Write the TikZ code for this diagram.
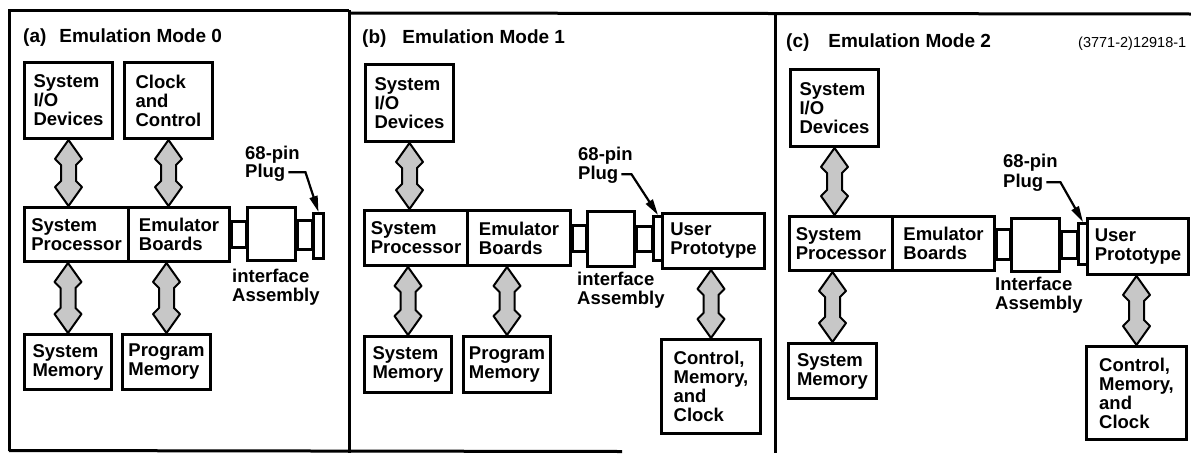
\documentclass[tikz,border=0pt]{standalone}
\usepackage{fontspec}
\setmainfont{Liberation Sans}
\usetikzlibrary{arrows.meta,calc}

% double-headed bus arrow, #1 upper end, #2 lower end
\newcommand{\busarrow}[2]{%
  \draw[dblbus] let \p1=(#1), \p2=(#2) in
    (\x1,\y1) -- (\x1+13.5pt,\y1-19pt) -- (\x1+7.5pt,\y1-25pt)
    -- (\x1+7.5pt,\y2+25pt) -- (\x1+13.5pt,\y2+19pt) -- (\x1,\y2)
    -- (\x1-13.5pt,\y2+19pt) -- (\x1-7.5pt,\y2+25pt)
    -- (\x1-7.5pt,\y1-25pt) -- (\x1-13.5pt,\y1-19pt) -- cycle;}

\begin{document}
\begin{tikzpicture}[x=1pt,y=-1pt,
    frame/.style={line width=3pt},
    blk/.style={draw, line width=3pt, align=left, inner sep=0pt, anchor=north west,
      font=\fontsize{18.5}{19}\selectfont\bfseries},
    stub/.style={line width=3pt},
    dblbus/.style={draw=black, line width=2pt, fill=black!22, line join=round},
    lbl/.style={inner sep=0pt, align=left, font=\fontsize{18.5}{19}\selectfont\bfseries},
    ttl/.style={inner sep=0pt, anchor=base west, font=\fontsize{19}{22}\selectfont\bfseries},
    leader/.style={line width=2.2pt, -{Triangle[length=16pt,width=8pt]}}]
    \useasboundingbox (0,0) rectangle (1191,453);

    % panel frames
    \draw[frame] (9,450.5) -- (9,10) -- (349,10);
    \draw[frame] (349,13) -- (1191,14);
    \draw[frame] (349,10) -- (349,453);
    \draw[frame] (775,13) -- (775,453);
    \draw[frame] (9,450.5) -- (622,451.5);

    % (a) Emulation Mode 0
    \node[ttl] (ttla) at (23,42) {(a)\hspace{13pt}Emulation Mode 0};
    \node[blk, minimum width=88pt, minimum height=76pt] (ioa) at (23,61) {System\\I/O\\Devices};
    \node[blk, minimum width=88pt, minimum height=76pt] (clka) at (123,61) {Clock\\and\\Control};
    \node[blk, minimum width=104pt, minimum height=54pt] (proca) at (23,206) {System\\Processor};
    \node[blk, minimum width=101pt, minimum height=54pt] (emua) at (127,206) {Emulator\\Boards};
    \node[blk, minimum width=48pt, minimum height=53pt] (ifa) at (246,206) {};
    \node[blk, minimum width=10pt, minimum height=45pt] (pluga) at (312,212) {};
    \node[blk, minimum width=87pt, minimum height=55pt] (smema) at (23,333) {System\\Memory};
    \node[blk, minimum width=88pt, minimum height=55pt] (pmema) at (121,333) {Program\\Memory};
    \draw[stub] ($(emua.east)+(0,-13.5)$) rectangle ($(ifa.west)+(0,13.5)$);
    \draw[stub] ($(ifa.east)+(0,-13.5)$) rectangle ($(pluga.west)+(0,13.5)$);
    \node[lbl, anchor=base west] (pintxta) at (245,159) {68-pin};
    \node[lbl, anchor=base west] (plugtxta) at (245,177) {Plug};
    \draw[leader] ($(plugtxta.east)+(3,0)$) -- ++(17,0) -- (pluga.north);
    \node[lbl, anchor=north west] (iftxta) at (232,269) {interface\\Assembly};
    \busarrow{ioa.south}{ioa.south |- proca.north}
    \busarrow{clka.south}{clka.south |- emua.north}
    \busarrow{smema.north |- proca.south}{smema.north}
    \busarrow{pmema.north |- emua.south}{pmema.north}

    % (b) Emulation Mode 1
    \node[ttl] (ttlb) at (362,43) {(b)\hspace{16pt}Emulation Mode 1};
    \node[blk, minimum width=88pt, minimum height=77pt] (iob) at (364,63) {System\\I/O\\Devices};
    \node[blk, minimum width=103pt, minimum height=55pt] (procb) at (363,209) {System\\Processor};
    \node[blk, minimum width=103pt, minimum height=55pt] (emub) at (466,209) {Emulator\\Boards};
    \node[blk, minimum width=47pt, minimum height=55pt] (ifb) at (586,210) {};
    \node[blk, minimum width=9pt, minimum height=44pt] (plugb) at (652,215) {};
    \node[blk, minimum width=102pt, minimum height=55pt] (upb) at (661,212) {User\\Prototype};
    \node[blk, minimum width=87pt, minimum height=56pt] (smemb) at (363,335) {System\\Memory};
    \node[blk, minimum width=87pt, minimum height=56pt] (pmemb) at (462,335) {Program\\Memory};
    \node[blk, minimum width=99pt, minimum height=94pt] (ctlb) at (660,338) {Control,\\Memory,\\and\\Clock};
    \draw[stub] ($(emub.east)+(0,-12.5)$) rectangle ($(ifb.west)+(0,12.5)$);
    \draw[stub] ($(ifb.east)+(0,-12.5)$) rectangle ($(plugb.west)+(0,12.5)$);
    \node[lbl, anchor=base west] (pintxtb) at (578,160) {68-pin};
    \node[lbl, anchor=base west] (plugtxtb) at (578,179) {Plug};
    \draw[leader] ($(plugtxtb.east)+(3,0)$) -- ++(10,0) -- (plugb.north);
    \node[lbl, anchor=north west] (iftxtb) at (577,272) {interface\\Assembly};
    \busarrow{iob.south}{iob.south |- procb.north}
    \busarrow{smemb.north |- procb.south}{smemb.north}
    \busarrow{pmemb.north |- emub.south}{pmemb.north}
    \busarrow{ctlb.north |- upb.south}{ctlb.north}

    % (c) Emulation Mode 2
    \node[ttl] (ttlc) at (786,47) {(c)\hspace{19pt}Emulation Mode 2};
    \node[anchor=base west, inner sep=0pt, font=\fontsize{14.5}{16}\selectfont] (refno) at (1078,47) {(3771-2)12918-1};
    \node[blk, minimum width=88pt, minimum height=77pt] (ioc) at (789,68) {System\\I/O\\Devices};
    \node[blk, minimum width=103pt, minimum height=54pt] (procc) at (788,215) {System\\Processor};
    \node[blk, minimum width=102pt, minimum height=54pt] (emuc) at (891,215) {Emulator\\Boards};
    \node[blk, minimum width=48pt, minimum height=53pt] (ifc) at (1010,217) {};
    \node[blk, minimum width=9pt, minimum height=41pt] (plugc) at (1077,222) {};
    \node[blk, minimum width=101pt, minimum height=56pt] (upc) at (1086,217) {User\\Prototype};
    \node[blk, minimum width=88pt, minimum height=55pt] (smemc) at (787,342) {System\\Memory};
    \node[blk, minimum width=100pt, minimum height=93pt] (ctlc) at (1085,345) {Control,\\Memory,\\and\\Clock};
    \draw[stub] ($(emuc.east)+(0,-14)$) rectangle ($(ifc.west)+(0,14)$);
    \draw[stub] ($(ifc.east)+(0,-14)$) rectangle ($(plugc.west)+(0,14)$);
    \node[lbl, anchor=base west] (pintxtc) at (1003,167) {68-pin};
    \node[lbl, anchor=base west] (plugtxtc) at (1003,187) {Plug};
    \draw[leader] ($(plugtxtc.east)+(3,0)$) -- ++(14,0) -- (plugc.north);
    \node[lbl, anchor=north west] (iftxtc) at (995,277) {Interface\\Assembly};
    \busarrow{ioc.south}{ioc.south |- procc.north}
    \busarrow{smemc.north |- procc.south}{smemc.north}
    \busarrow{ctlc.north |- upc.south}{ctlc.north}
\end{tikzpicture}
\end{document}
